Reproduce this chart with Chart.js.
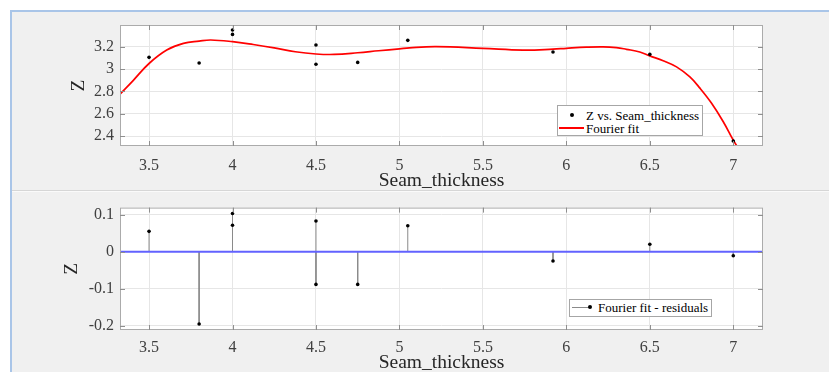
<!DOCTYPE html>
<html>
<head>
<meta charset="utf-8">
<title>Fourier fit</title>
<script src="https://cdn.jsdelivr.net/npm/chart.js@4.4.1/dist/chart.umd.min.js"></script>
<style>
  body { margin: 0; width: 829px; height: 372px; overflow: hidden; position: relative; background: #fff; font-family: "Liberation Serif", "Times New Roman", serif; }
  #panel { position: absolute; left: 10px; top: 10px; right: 0; bottom: 0; background: #f0f0f0; border-left: 2px solid #a9c5e8; border-top: 2px solid #a9c5e8; }
  #sep { position: absolute; left: 12px; right: 0; top: 190px; height: 1px; background: #d6d6d6; border-bottom: 1px solid #fafafa; }
  canvas { position: absolute; left: 0; }
  #fitChart { top: 0; }
  #resChart { top: 192px; }
  .legend { position: absolute; background: #fff; border: 1px solid #a6a6a6; font-size: 13px; color: #000; }
  .legend .row { position: absolute; left: 0; height: 13px; line-height: 13px; white-space: nowrap; }
  .legend .mark { position: absolute; left: 0; top: 0; width: 26px; height: 13px; }
  .legend .txt { position: absolute; left: 28px; top: 0; }
  .line { position: absolute; left: 1px; top: 6px; width: 25px; height: 0; }
  .dot { position: absolute; width: 4px; height: 4px; border-radius: 2px; background: #000; top: 4px; }
</style>
</head>
<body>
<div id="panel"></div>
<div id="sep"></div>
<canvas id="fitChart" width="829" height="190"></canvas>
<canvas id="resChart" width="829" height="180"></canvas>

<div class="legend" id="fitLegend" style="left:557px; top:105px; width:144px; height:29px;">
  <div class="row" style="top:3px;"><span class="mark"><span class="dot" style="left:12px;"></span></span><span class="txt" id="lg1"></span></div>
  <div class="row" style="top:16px;"><span class="mark"><span class="line" style="border-top:2px solid #ff0000; top:5px;"></span></span><span class="txt" id="lg2"></span></div>
</div>
<div class="legend" id="resLegend" style="left:569px; top:299px; width:141px; height:16px;">
  <div class="row" style="top:1px;"><span class="mark"><span class="line" style="border-top:1px solid #8a8a8a; left:2px; width:18px;"></span><span class="dot" style="left:18px;"></span></span><span class="txt" id="lg3"></span></div>
</div>

<script>
// DATA
const seamThickness = [3.5, 3.8, 4, 4, 4.5, 4.5, 4.75, 5.05, 5.92, 6.5, 7]
const zValues = [3.105, 3.054, 3.349, 3.31, 3.215, 3.043, 3.06, 3.257, 3.153, 3.132, 2.357]
const residuals = [0.055, -0.195, 0.103, 0.0715, 0.083, -0.088, -0.088, 0.07, -0.025, 0.02, -0.011]
// fourier fit curve
const fitX = [3.326, 3.406, 3.5, 3.606, 3.706, 3.8, 3.87, 4, 4.124, 4.25, 4.376, 4.5, 4.61, 4.75, 4.875, 5, 5.06, 5.22, 5.5, 5.74, 5.92, 6, 6.12, 6.22, 6.3, 6.36, 6.44, 6.5, 6.58, 6.66, 6.74, 6.8, 6.87, 6.94, 7, 7.04]
const fitZ = [2.776, 2.9, 3.05, 3.17, 3.23, 3.25, 3.26, 3.245, 3.22, 3.19, 3.155, 3.135, 3.131, 3.146, 3.164, 3.181, 3.19, 3.2, 3.185, 3.17, 3.178, 3.186, 3.196, 3.199, 3.192, 3.177, 3.153, 3.118, 3.075, 3.02, 2.93, 2.83, 2.695, 2.53, 2.365, 2.27]
const xTicks = [3.5, 4, 4.5, 5, 5.5, 6, 6.5, 7]
const zTicks = [2.4, 2.6, 2.8, 3, 3.2]
const resTicks = [-0.2, -0.1, 0, 0.1]
const xRange = [3.326, 7.178]
const zRange = [2.313, 3.394]
const resRange = [-0.211, 0.119]

const serif = '"Liberation Serif", "Times New Roman", serif'

// white plot box, border and inward ticks like matlab
const boxPlugin = {
  id: 'box',
  beforeDraw(chart) {
    const a = chart.chartArea
    const ctx = chart.ctx
    ctx.save()
    ctx.fillStyle = '#fff'
    ctx.fillRect(a.left, a.top, a.width, a.height)
    ctx.restore()
  },
  afterDraw(chart) {
    const a = chart.chartArea
    const ctx = chart.ctx
    const xs = chart.scales.x
    const ys = chart.scales.y
    ctx.save()
    ctx.strokeStyle = '#ababab'
    ctx.lineWidth = 1
    ctx.strokeRect(a.left + 0.5, a.top + 0.5, a.width - 1, a.height - 1)
    ctx.strokeStyle = '#8f8f8f'
    ctx.beginPath()
    xs.ticks.forEach(t => {
      const px = Math.round(xs.getPixelForValue(t.value)) + 0.5
      ctx.moveTo(px, a.bottom); ctx.lineTo(px, a.bottom - 5)
      ctx.moveTo(px, a.top); ctx.lineTo(px, a.top + 5)
    })
    ys.ticks.forEach(t => {
      const py = Math.round(ys.getPixelForValue(t.value)) + 0.5
      ctx.moveTo(a.left, py); ctx.lineTo(a.left + 5, py)
      ctx.moveTo(a.right, py); ctx.lineTo(a.right - 5, py)
    })
    ctx.stroke()
    ctx.restore()
  }
}

function makeScales(yRange, yTicks, opts) {
  return {
    x: {
      type: 'linear',
      min: xRange[0],
      max: xRange[1],
      afterBuildTicks: s => { s.ticks = xTicks.map(v => ({ value: v })) },
      afterFit: s => { s.height = opts.xHeight },
      grid: { color: '#e6e6e6', drawTicks: false },
      border: { display: false },
      ticks: { autoSkip: false, maxRotation: 0, padding: opts.xPad, color: '#404040', font: { family: serif, size: 16 }, callback: v => String(v) },
      title: { display: true, text: 'Seam_thickness', color: '#262626', font: { family: serif, size: 19.5, lineHeight: 1 }, padding: { top: 0, bottom: -1 } }
    },
    y: {
      type: 'linear',
      min: yRange[0],
      max: yRange[1],
      afterBuildTicks: s => { s.ticks = yTicks.map(v => ({ value: v })) },
      afterFit: s => { s.width = 120 },
      grid: { color: '#e6e6e6', drawTicks: false },
      border: { display: false },
      ticks: { padding: 6, color: '#404040', font: { family: serif, size: 16 }, callback: v => String(v) },
      title: { display: true, text: 'Z', color: '#262626', font: { family: serif, size: 19.5, lineHeight: 1 }, padding: { top: opts.zPad, bottom: 0 } }
    }
  }
}

// TOP: DATA AND FOURIER FIT
const fitChart = new Chart(document.getElementById('fitChart'), {
  type: 'scatter',
  data: {
    datasets: [{
      label: 'Z vs. Seam_thickness',
      data: seamThickness.map((x, i) => ({ x: x, y: zValues[i] })),
      backgroundColor: '#000',
      borderColor: '#000',
      pointRadius: 1.8,
      pointBorderWidth: 0
    }, {
      label: 'Fourier fit',
      data: fitX.map((x, i) => ({ x: x, y: fitZ[i] })),
      showLine: true,
      borderColor: '#ff0000',
      borderWidth: 1.7,
      pointRadius: 0,
      tension: 0.4
    }]
  },
  options: {
    responsive: false,
    animation: false,
    layout: { padding: { top: 25, right: 66, left: 0, bottom: 0 } },
    plugins: { legend: { display: false }, tooltip: { enabled: false } },
    scales: makeScales(zRange, zTicks, { xHeight: 44, xPad: 10, zPad: 69 })
  },
  plugins: [boxPlugin]
})

// BOTTOM: RESIDUALS STEM PLOT
const stems = []
seamThickness.forEach((x, i) => {
  stems.push({ x: x, y: 0 }, { x: x, y: residuals[i] }, { x: x, y: null })
})

const resChart = new Chart(document.getElementById('resChart'), {
  type: 'scatter',
  data: {
    datasets: [{
      label: 'Fourier fit - residuals',
      data: seamThickness.map((x, i) => ({ x: x, y: residuals[i] })),
      backgroundColor: '#000',
      pointRadius: 1.8,
      pointBorderWidth: 0
    }, {
      label: 'zero',
      data: [{ x: xRange[0], y: 0 }, { x: xRange[1], y: 0 }],
      showLine: true,
      borderColor: '#6262ff',
      borderWidth: 2,
      pointRadius: 0
    }, {
      label: 'stems',
      data: stems,
      showLine: true,
      spanGaps: false,
      borderColor: '#8a8a8a',
      borderWidth: 1,
      pointRadius: 0
    }]
  },
  options: {
    responsive: false,
    animation: false,
    layout: { padding: { top: 15, right: 66, left: 0, bottom: 0 } },
    plugins: { legend: { display: false }, tooltip: { enabled: false } },
    scales: makeScales(resRange, resTicks, { xHeight: 42, xPad: 8, zPad: 62 })
  },
  plugins: [boxPlugin]
})

// LEGEND TEXT FROM THE DATASETS
document.getElementById('lg1').textContent = fitChart.data.datasets[0].label
document.getElementById('lg2').textContent = fitChart.data.datasets[1].label
document.getElementById('lg3').textContent = resChart.data.datasets[0].label
</script>
</body>
</html>
